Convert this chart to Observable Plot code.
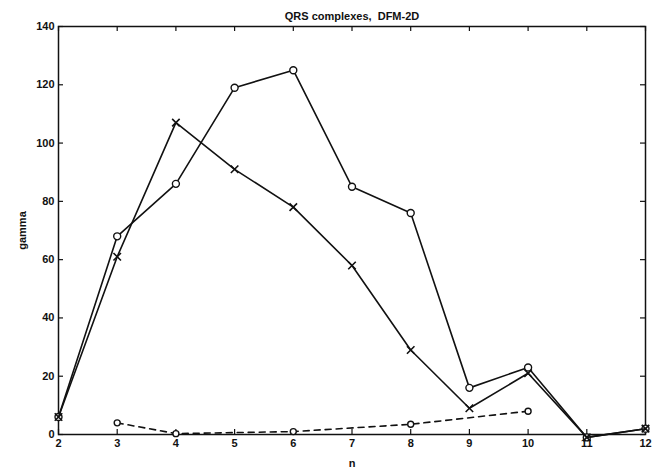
<!DOCTYPE html>
<html>
<head>
<meta charset="utf-8">
<script src="https://cdn.jsdelivr.net/npm/d3@7"></script>
<script src="https://cdn.jsdelivr.net/npm/@observablehq/plot@0.6"></script>
<style>
  html, body { margin: 0; padding: 0; background: #fff; }
  svg { font-family: "Liberation Sans", Arial, sans-serif; }
</style>
</head>
<body>
<div id="chart"></div>
<script>
const title = "QRS complexes,  DFM-2D";
const xLabel = "n";
const yLabel = "gamma";
const xTicks = [2, 3, 4, 5, 6, 7, 8, 9, 10, 11, 12];
const yTicks = [0, 20, 40, 60, 80, 100, 120, 140];

const nCircle = [2, 3, 4, 5, 6, 7, 8, 9, 10, 11, 12];
const gammaCircle = [6, 68, 86, 119, 125, 85, 76, 16, 23, -1, 2];

const nCross = [2, 3, 4, 5, 6, 7, 8, 9, 10, 11, 12];
const gammaCross = [6, 61, 107, 91, 78, 58, 29, 9, 21, -1, 2];

const nDashed = [3, 4, 6, 8, 10];
const gammaDashed = [4, 0.3, 1, 3.5, 8];

const circleData = nCircle.map((n, i) => ({n, g: gammaCircle[i]}));
const crossData = nCross.map((n, i) => ({n, g: gammaCross[i]}));
const dashedData = nDashed.map((n, i) => ({n, g: gammaDashed[i]}));

const W = 661, H = 470, mL = 58, mR = 16, mT = 26, mB = 36;
const plotW = W - mL - mR, plotH = H - mT - mB, tickLen = 5;

const chart = Plot.plot({
  width: W,
  height: H,
  marginLeft: mL,
  marginRight: mR,
  marginTop: mT,
  marginBottom: mB,
  style: {fontSize: "11px", fontWeight: "bold", color: "#111", background: "#fff"},
  x: {domain: [2, 12], ticks: xTicks},
  y: {domain: [0, 140], ticks: yTicks},
  marks: [
    Plot.frame({stroke: "#111", strokeWidth: 1.5}),
    Plot.axisX({anchor: "bottom", ticks: xTicks, tickSize: 0, tickPadding: 5, label: xLabel, labelAnchor: "center", labelArrow: "none", labelOffset: 32}),
    Plot.axisY({anchor: "left", ticks: yTicks, tickSize: 0, tickPadding: 4, label: yLabel, labelAnchor: "center", labelArrow: "none", labelOffset: 40}),
    Plot.tickX(xTicks, {x: d => d, stroke: "#111", strokeWidth: 1.2, insetTop: plotH - tickLen}),
    Plot.tickX(xTicks, {x: d => d, stroke: "#111", strokeWidth: 1.2, insetBottom: plotH - tickLen}),
    Plot.tickY(yTicks, {y: d => d, stroke: "#111", strokeWidth: 1.2, insetRight: plotW - tickLen}),
    Plot.tickY(yTicks, {y: d => d, stroke: "#111", strokeWidth: 1.2, insetLeft: plotW - tickLen}),
    Plot.line(circleData, {x: "n", y: "g", stroke: "#111", strokeWidth: 1.6}),
    Plot.dot(circleData, {x: "n", y: "g", stroke: "#111", fill: "#fff", r: 3.5, strokeWidth: 1.4}),
    Plot.line(crossData, {x: "n", y: "g", stroke: "#111", strokeWidth: 1.6}),
    Plot.dot(crossData, {x: "n", y: "g", symbol: "times", stroke: "#111", r: 3.5, strokeWidth: 1.6}),
    Plot.line(dashedData, {x: "n", y: "g", stroke: "#111", strokeWidth: 1.6, strokeDasharray: "6,5"}),
    Plot.dot(dashedData, {x: "n", y: "g", stroke: "#111", fill: "#fff", r: 3, strokeWidth: 1.4}),
    Plot.text([title], {frameAnchor: "top", dy: -14, fontSize: 11, fontWeight: "bold", fill: "#111"})
  ]
});
document.getElementById("chart").appendChild(chart);
</script>
</body>
</html>
